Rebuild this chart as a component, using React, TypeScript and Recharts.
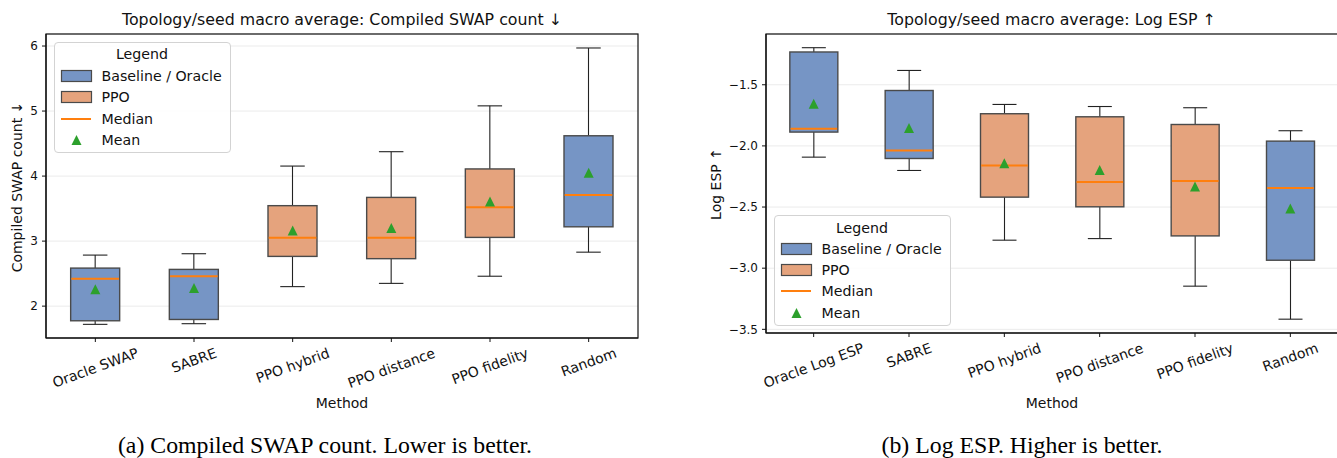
import React from 'react';
import { ComposedChart, Bar, Scatter, XAxis, YAxis, CartesianGrid } from 'recharts';

const swapMethods = ['Oracle SWAP', 'SABRE', 'PPO hybrid', 'PPO distance', 'PPO fidelity', 'Random'];
const espMethods = ['Oracle Log ESP', 'SABRE', 'PPO hybrid', 'PPO distance', 'PPO fidelity', 'Random'];
const methodGroup = ['base', 'base', 'ppo', 'ppo', 'ppo', 'base'];

const swapLow = [1.72, 1.73, 2.3, 2.35, 2.46, 2.83];
const swapQ1 = [1.775, 1.795, 2.765, 2.73, 3.057, 3.22];
const swapMedian = [2.42, 2.46, 3.05, 3.05, 3.52, 3.71];
const swapQ3 = [2.585, 2.565, 3.545, 3.672, 4.11, 4.62];
const swapHigh = [2.785, 2.806, 4.154, 4.375, 5.08, 5.97];
const swapMean = [2.26, 2.28, 3.165, 3.2, 3.61, 4.05];
const swapTicks = [2, 3, 4, 5, 6];

const espLow = [-2.092, -2.201, -2.771, -2.758, -3.147, -3.417];
const espQ1 = [-1.887, -2.103, -2.419, -2.498, -2.736, -2.935];
const espMedian = [-1.86, -2.037, -2.16, -2.296, -2.288, -2.345];
const espQ3 = [-1.232, -1.547, -1.737, -1.762, -1.825, -1.961];
const espHigh = [-1.197, -1.383, -1.661, -1.678, -1.688, -1.876];
const espMean = [-1.655, -1.854, -2.141, -2.198, -2.332, -2.512];
const espTicks = [-3.5, -3.0, -2.5, -2.0, -1.5];

const FONT = '"DejaVu Sans", sans-serif';
const BLUE = '#7695c5';
const ORANGE = '#e5a37d';
const EDGE = '#4a4a4a';
const MEDIAN = '#ff7f0e';
const GREEN = '#2ca02c';
const TICK_FS = 12;
const XTICK_FS = 14;

const toRows = (names, low, q1, med, q3, high, mean) =>
    names.map((name, i) => ({
        name, group: methodGroup[i],
        low: low[i], q1: q1[i], median: med[i], q3: q3[i], high: high[i], mean: mean[i],
    }));

const swapRows = toRows(swapMethods, swapLow, swapQ1, swapMedian, swapQ3, swapHigh, swapMean);
const espRows = toRows(espMethods, espLow, espQ1, espMedian, espQ3, espHigh, espMean);

let ctx = null;
function textWidth(s, size) {
    if (!ctx) ctx = document.createElement('canvas').getContext('2d');
    ctx.font = `${size}px "DejaVu Sans"`;
    return ctx.measureText(s).width;
}

function BoxShape(props) {
    const { x, y, width, height, payload } = props;
    if (!payload) return null;
    const top = Math.min(y, y + height);
    const bottom = Math.max(y, y + height);
    const { low, high, q1, q3, median } = payload;
    const py = (v) => bottom - ((v - low) / (high - low)) * (bottom - top);
    const cx = x + width / 2;
    const cap = width / 4;
    const fill = payload.group === 'ppo' ? ORANGE : BLUE;
    return (
        <g>
            <line x1={cx} x2={cx} y1={py(high)} y2={py(q3)} stroke="#222" strokeWidth={1.1} />
            <line x1={cx} x2={cx} y1={py(q1)} y2={py(low)} stroke="#222" strokeWidth={1.1} />
            <line x1={cx - cap} x2={cx + cap} y1={py(high)} y2={py(high)} stroke="#222" strokeWidth={1.1} />
            <line x1={cx - cap} x2={cx + cap} y1={py(low)} y2={py(low)} stroke="#222" strokeWidth={1.1} />
            <rect x={x} y={py(q3)} width={width} height={py(q1) - py(q3)} fill={fill} stroke={EDGE} strokeWidth={1.4} />
            <line x1={x + 0.7} x2={x + width - 0.7} y1={py(median)} y2={py(median)} stroke={MEDIAN} strokeWidth={2} />
        </g>
    );
}

function Tri(props) {
    const { cx, cy } = props;
    if (cx == null || cy == null) return null;
    const r = 5;
    return <polygon points={`${cx},${cy - r} ${cx - r},${cy + r} ${cx + r},${cy + r}`} fill={GREEN} />;
}

function RotTick(props) {
    const { x, y, payload } = props;
    const label = String(payload.value);
    const w = textWidth(label, XTICK_FS);
    const h = XTICK_FS * 1.1;
    const th = (20 * Math.PI) / 180;
    const H = w * Math.sin(th) + h * Math.cos(th);
    const cy = y + H / 2;
    return (
        <text x={x} y={cy} textAnchor="middle" dominantBaseline="central" fontFamily={FONT}
            fontSize={XTICK_FS} fill="#111" transform={`rotate(-20 ${x} ${cy})`}>
            {label}
        </text>
    );
}

function fmtEsp(v) {
    return (v < 0 ? '\u2212' : '') + Math.abs(v).toFixed(1);
}

function BoxChart({ rows, domain, ticks, width, height, yWidth, xHeight, marginRight, tickFmt }) {
    return (
        <ComposedChart width={width} height={height} data={rows}
            margin={{ top: 34, right: marginRight, left: 0, bottom: 0 }} barCategoryGap="25%">
            <CartesianGrid vertical={false} stroke="#ebebeb" strokeWidth={1} />
            <XAxis dataKey="name" type="category" height={xHeight} interval={0}
                tickSize={4} tickMargin={3} tick={<RotTick />}
                axisLine={{ stroke: '#111', strokeWidth: 1.2 }} tickLine={{ stroke: '#111' }} />
            <YAxis type="number" domain={domain} ticks={ticks} allowDataOverflow width={yWidth}
                tickSize={4} tickMargin={4} tickFormatter={tickFmt}
                tick={{ fontFamily: FONT, fontSize: TICK_FS, fill: '#111' }}
                axisLine={{ stroke: '#111', strokeWidth: 1.2 }} tickLine={{ stroke: '#111' }} />
            <Bar dataKey={(d) => [d.low, d.high]} isAnimationActive={false}
                shape={(p) => <BoxShape {...p} />} />
            <Scatter dataKey="mean" isAnimationActive={false} shape={(p) => <Tri {...p} />} />
        </ComposedChart>
    );
}

function LegendBox({ left, top, rows }) {
    const fs = 14.2;
    const items = [
        { label: 'Baseline / Oracle', kind: 'patch', color: BLUE },
        { label: 'PPO', kind: 'patch', color: ORANGE },
        { label: 'Median', kind: 'line' },
        { label: 'Mean', kind: 'tri' },
    ];
    return (
        <div style={{
            position: 'absolute', left, top, width: 177, height: 111, boxSizing: 'border-box',
            border: '1px solid #d3d3d3', borderRadius: 4, background: 'rgba(255,255,255,0.85)',
            fontFamily: FONT, fontSize: fs, color: '#111',
        }}>
            <div style={{ position: 'absolute', left: 0, width: '100%', top: 11.5 - 9, lineHeight: '18px', textAlign: 'center' }}>Legend</div>
            {items.map((it, i) => (
                <div key={it.label} style={{ position: 'absolute', left: 0, top: rows[i] - 9, height: 18, width: '100%' }}>
                    <svg width={40} height={18} style={{ position: 'absolute', left: 0, top: 0 }}>
                        {it.kind === 'patch' && <rect x={6.5} y={3.5} width={30} height={11} fill={it.color} stroke={EDGE} strokeWidth={1.2} />}
                        {it.kind === 'line' && <line x1={6} x2={36} y1={9} y2={9} stroke={MEDIAN} strokeWidth={2} />}
                        {it.kind === 'tri' && <polygon points="21.5,4 16.5,14 26.5,14" fill={GREEN} />}
                    </svg>
                    <span style={{ position: 'absolute', left: 47, top: 0, lineHeight: '18px', whiteSpace: 'nowrap' }}>{it.label}</span>
                </div>
            ))}
        </div>
    );
}

export default function App() {
    return (
        <div style={{ position: 'absolute', left: 0, top: 0, width: 1337, height: 458, overflow: 'hidden', background: '#fff' }}>
            <div style={{ position: 'absolute', left: 0, top: 0 }}>
                <BoxChart rows={swapRows} domain={[1.51, 6.185]} ticks={swapTicks} width={660} height={420}
                    yWidth={46} xHeight={82} marginRight={22} tickFmt={(v) => String(v)} />
            </div>
            <div style={{ position: 'absolute', left: 680, top: 0 }}>
                <BoxChart rows={espRows} domain={[-3.53, -1.085]} ticks={espTicks} width={658} height={420}
                    yWidth={86} xHeight={87} marginRight={0} tickFmt={fmtEsp} />
            </div>
            <svg width={1337} height={458} style={{ position: 'absolute', left: 0, top: 0, pointerEvents: 'none' }}>
                {/* axes frames (matplotlib spines) */}
                <rect x={46} y={34} width={592} height={304} fill="none" stroke="#111" strokeWidth={1.2} />
                <rect x={766} y={34} width={572} height={299} fill="none" stroke="#111" strokeWidth={1.2} />
                <g fontFamily={FONT} fill="#111">
                    <text x={342} y={19} fontSize={15.8} textAnchor="middle" dominantBaseline="central">Topology/seed macro average: Compiled SWAP count ↓</text>
                    <text x={1051.5} y={19} fontSize={15.8} textAnchor="middle" dominantBaseline="central">Topology/seed macro average: Log ESP ↑</text>
                    <text x={17} y={187} fontSize={14} textAnchor="middle" dominantBaseline="central" transform="rotate(-90 17 187)">Compiled SWAP count ↓</text>
                    <text x={715.5} y={184} fontSize={14} textAnchor="middle" dominantBaseline="central" transform="rotate(-90 715.5 184)">Log ESP ↑</text>
                    <text x={342} y={403} fontSize={14} textAnchor="middle" dominantBaseline="central">Method</text>
                    <text x={1052} y={403} fontSize={14} textAnchor="middle" dominantBaseline="central">Method</text>
                </g>
                <g fontFamily='"Liberation Serif", serif' fill="#000" fontSize={23.8} textAnchor="middle">
                    <text x={325} y={453}>(a) Compiled SWAP count. Lower is better.</text>
                    <text x={1022} y={453}>(b) Log ESP. Higher is better.</text>
                </g>
            </svg>
            <LegendBox left={53.5} top={41.5} rows={[33.2, 54.8, 76.2, 97.8]} />
            <LegendBox left={773.5} top={215} rows={[32.7, 54, 75.3, 96.7]} />
        </div>
    );
}
